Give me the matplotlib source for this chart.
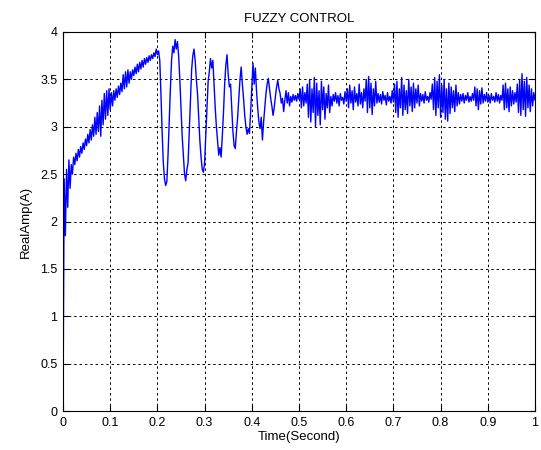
import numpy as np
import matplotlib
matplotlib.use("Agg")
import matplotlib.pyplot as plt

startup = [0.0, 2.45, 1.85, 2.55, 2.15, 2.65, 2.35, 2.60, 2.50, 2.68, 2.60]

ramp = [2.72, 2.64, 2.76, 2.68, 2.79, 2.72, 2.83, 2.76, 2.87, 2.80,
        2.92, 2.83, 2.97, 2.86, 3.02, 2.90, 3.10, 2.92, 3.15, 2.95,
        3.22, 2.90, 3.28, 3.02, 3.35, 3.08, 3.38, 3.12, 3.40, 3.18,
        3.36, 3.22, 3.38, 3.28, 3.40, 3.31, 3.43, 3.34, 3.46, 3.37,
        3.55, 3.40, 3.58, 3.42, 3.60, 3.46, 3.58, 3.50, 3.60, 3.54,
        3.63, 3.56, 3.66, 3.58, 3.68, 3.61, 3.70, 3.63, 3.72, 3.66,
        3.73, 3.68, 3.75, 3.70, 3.76, 3.72, 3.78, 3.74, 3.82, 3.76]

oscillation = [3.80, 3.70, 3.35, 2.95, 2.62, 2.45, 2.38, 2.42, 2.70, 3.05,
               3.40, 3.70, 3.85, 3.78, 3.92, 3.82, 3.90, 3.75, 3.50, 3.20,
               2.90, 2.70, 2.50, 2.43, 2.55, 2.62, 2.95, 3.30, 3.60, 3.75,
               3.82, 3.70, 3.50, 3.35, 3.10, 2.85, 2.68, 2.55, 2.52, 2.62,
               2.90, 3.20, 3.48, 3.58, 3.72, 3.62, 3.70, 3.45, 3.20, 3.00,
               2.85, 2.70, 2.78, 2.68, 2.90, 3.15, 3.45, 3.65, 3.76, 3.55,
               3.42, 3.45, 3.20, 2.95, 2.80, 2.77, 2.95, 3.10, 3.30, 3.50,
               3.63, 3.45, 3.30, 3.12, 3.00, 2.92, 2.98, 2.93, 3.15, 3.40,
               3.67, 3.45, 3.62, 3.38, 3.20, 3.05, 2.98, 3.10, 2.86, 3.05,
               3.20, 3.35, 3.45, 3.51, 3.40, 3.30, 3.22, 3.12, 3.20, 3.32,
               3.42, 3.49, 3.40, 3.35, 3.25, 3.30, 3.16, 3.28, 3.38, 3.25,
               3.36, 3.22, 3.32, 3.26, 3.34, 3.28, 3.33, 3.27, 3.35, 3.29]

steady = [3.40, 3.20, 3.42, 3.22, 3.36, 3.25,
          3.45, 3.10, 3.50, 3.05, 3.40, 3.15, 3.52, 3.00, 3.46, 3.12, 3.38,
          3.02, 3.48, 3.18, 3.42, 3.08, 3.35, 3.20, 3.44, 3.15, 3.32, 3.22,
          3.34, 3.27, 3.36, 3.25, 3.33, 3.22, 3.35, 3.28, 3.31, 3.24, 3.37, 3.27,
          3.40, 3.20, 3.44, 3.25, 3.38, 3.18, 3.42, 3.26, 3.35, 3.22, 3.45,
          3.24, 3.36, 3.20, 3.40, 3.27,
          3.50, 3.15, 3.53, 3.20, 3.46, 3.13, 3.40, 3.22, 3.48, 3.25,
          3.35, 3.26, 3.34, 3.24, 3.37, 3.28, 3.33, 3.23, 3.36, 3.27, 3.32,
          3.25, 3.38, 3.26,
          3.45, 3.15, 3.48, 3.10, 3.40, 3.20, 3.52, 3.12, 3.44, 3.18, 3.38,
          3.14, 3.50, 3.22, 3.42, 3.16, 3.46, 3.20, 3.40, 3.25, 3.44, 3.22,
          3.35, 3.27, 3.34, 3.25, 3.37, 3.28, 3.32, 3.26, 3.36, 3.29,
          3.45, 3.18, 3.52, 3.12, 3.48, 3.20, 3.55, 3.10, 3.44, 3.15, 3.50,
          3.08, 3.40, 3.06, 3.46, 3.14, 3.42, 3.20, 3.38, 3.16, 3.44, 3.22,
          3.36, 3.24,
          3.34, 3.27, 3.35, 3.25, 3.33, 3.28, 3.36, 3.26, 3.32, 3.27, 3.35, 3.28,
          3.42, 3.22, 3.40, 3.18, 3.38, 3.24, 3.41, 3.25,
          3.34, 3.27, 3.36, 3.26, 3.33, 3.25, 3.35, 3.28, 3.32, 3.26, 3.36,
          3.27, 3.34, 3.25, 3.33, 3.28,
          3.44, 3.18, 3.46, 3.20, 3.40, 3.16, 3.42, 3.22, 3.38, 3.24, 3.36, 3.26,
          3.45, 3.15, 3.50, 3.12, 3.56, 3.18, 3.48, 3.11, 3.52, 3.20, 3.44,
          3.16, 3.40, 3.22, 3.36, 3.28]

values = np.array(startup + ramp + oscillation + steady)
time = np.linspace(0.0, 1.0, len(values))

x_ticks = [0, 0.1, 0.2, 0.3, 0.4, 0.5, 0.6, 0.7, 0.8, 0.9, 1]
x_labels = ["0", "0.1", "0.2", "0.3", "0.4", "0.5", "0.6", "0.7", "0.8", "0.9", "1"]
y_ticks = [0, 0.5, 1, 1.5, 2, 2.5, 3, 3.5, 4]
y_labels = ["0", "0.5", "1", "1.5", "2", "2.5", "3", "3.5", "4"]

plt.rcParams['font.family'] = ['Liberation Sans', 'DejaVu Sans']

fig = plt.figure(figsize=(5.41, 4.5), dpi=100)
ax = fig.add_axes([63 / 541, 1 - 411 / 450, (535 - 63) / 541, (411 - 32) / 450])

ax.plot(time, values, color=(0, 0, 1), linewidth=1.0)

ax.set_xlim(0, 1)
ax.set_ylim(0, 4)
ax.set_xticks(x_ticks)
ax.set_xticklabels(x_labels)
ax.set_yticks(y_ticks)
ax.set_yticklabels(y_labels)
ax.grid(True, color='black', linestyle=(0, (2.5, 3)), linewidth=0.7)
ax.tick_params(direction='in', length=4, labelsize=9, top=True, right=True, pad=4)
for s in ax.spines.values():
    s.set_linewidth(0.8)

ax.set_title("FUZZY CONTROL", fontsize=9.5, pad=7)
ax.set_xlabel("Time(Second)", fontsize=9.5, labelpad=2)
ax.set_ylabel("RealAmp(A)", fontsize=9.5, labelpad=6)

fig.savefig("out.png", dpi=100)
